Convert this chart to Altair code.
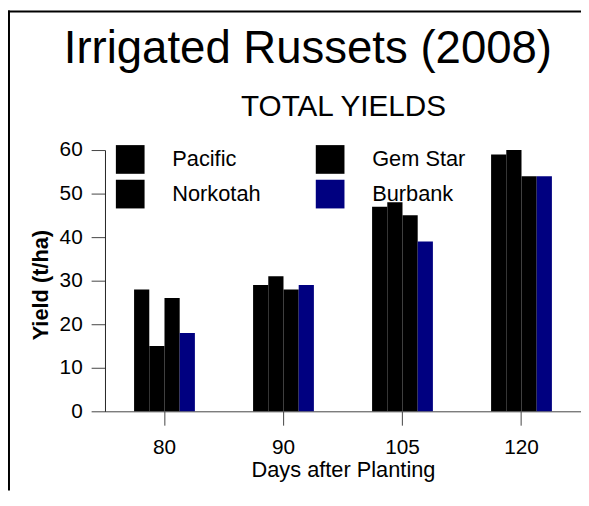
import altair as alt
import pandas as pd

# ---- data ----
days = ["80", "90", "105", "120"]
bar_order = ["Pacific", "Norkotah", "Gem Star", "Burbank"]
bar_colors = ["#000000", "#000000", "#000000", "#000080"]
pacific = [28, 29, 47, 59]
norkotah = [15, 31, 48, 60]
gem_star = [26, 28, 45, 54]
burbank = [18, 29, 39, 54]
y_ticks = [0, 10, 20, 30, 40, 50, 60]

main_title = "Irrigated Russets (2008)"
sub_title = "TOTAL YIELDS"
x_title = "Days after Planting"
y_title = "Yield (t/ha)"

series = {"Pacific": pacific, "Norkotah": norkotah, "Gem Star": gem_star, "Burbank": burbank}
rows = []
for v in bar_order:
    for d, val in zip(days, series[v]):
        rows.append({"days": d, "variety": v, "yield": val})
df = pd.DataFrame(rows)

FONT = "Liberation Sans"
W, H = 481, 264
PAD_L, PAD_T, PAD_R, PAD_B = 98, 141, 0, 80

bars = alt.Chart(df).mark_bar(strokeWidth=0).encode(
    x=alt.X("days:N", sort=days,
            scale=alt.Scale(paddingInner=0.489, paddingOuter=0.2445),
            axis=alt.Axis(title=x_title, labelAngle=0, labelFontSize=21, labelFont=FONT,
                          labelColor="#000", tickSize=14, labelPadding=12,
                          tickColor="#444", domainColor="#444",
                          titleFontSize=22, titleFont=FONT, titleFontWeight="normal",
                          titleColor="#000", titleY=49)),
    xOffset=alt.XOffset("variety:N", sort=bar_order,
                        scale=alt.Scale(paddingInner=0, paddingOuter=0)),
    y=alt.Y("yield:Q", scale=alt.Scale(domain=[0, 60], nice=False),
            axis=alt.Axis(title=y_title, values=y_ticks, grid=False, labelFontSize=21,
                          labelFont=FONT, labelColor="#000", tickSize=14, labelPadding=9,
                          tickColor="#444", domainColor="#222",
                          titleFontSize=22, titleFont=FONT, titleFontWeight="bold",
                          titleColor="#000", titleAngle=270, titleBaseline="middle",
                          titleAlign="center", titleX=-65, titleY=136)),
    color=alt.Color("variety:N", sort=bar_order,
                    scale=alt.Scale(domain=bar_order, range=bar_colors),
                    legend=alt.Legend(orient="none", legendX=11, legendY=-5, columns=2,
                                      symbolType="square", symbolSize=841,
                                      symbolStrokeWidth=0, labelFontSize=22,
                                      labelFont=FONT, labelColor="#000", labelOffset=28,
                                      columnPadding=55, rowPadding=6, title=None,
                                      padding=0)),
)

one = pd.DataFrame({"k": [0]})

title_mark = alt.Chart(one).mark_text(fontSize=46, font=FONT, color="#000",
                                       align="center", baseline="alphabetic").encode(
    x=alt.value(205), y=alt.value(-88), text=alt.value(main_title))
sub_mark = alt.Chart(one).mark_text(fontSize=30, font=FONT, color="#000",
                                     align="center", baseline="alphabetic").encode(
    x=alt.value(241), y=alt.value(-34), text=alt.value(sub_title))

frame_top = alt.Chart(one).mark_rule(color="#000", strokeWidth=2).encode(
    x=alt.value(-PAD_L), x2=alt.value(W + PAD_R), y=alt.value(-PAD_T + 1))
frame_left = alt.Chart(one).mark_rule(color="#000", strokeWidth=2).encode(
    x=alt.value(-PAD_L + 1), y=alt.value(-PAD_T), y2=alt.value(H + PAD_B))

chart = alt.layer(frame_top, frame_left, bars, title_mark, sub_mark).properties(
    width=W, height=H,
    autosize=alt.AutoSizeParams(type="none"),
    padding={"left": PAD_L, "top": PAD_T, "right": PAD_R, "bottom": PAD_B},
    background="white",
).configure_view(stroke=None)

chart.save("out.html", embed_options={"renderer": "svg", "actions": False})
